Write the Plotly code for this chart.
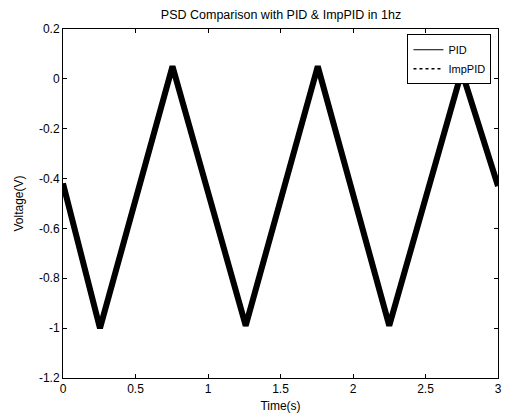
import plotly.graph_objects as go

# Data (vertices of the triangular response)
time_pid = [0.0, 0.255, 0.755, 1.26, 1.757, 2.25, 2.75, 3.0]
volt_pid = [-0.42, -1.0, 0.05, -0.99, 0.05, -0.99, 0.03, -0.43]
time_imp = [0.0, 0.255, 0.755, 1.26, 1.757, 2.25, 2.75, 3.0]
volt_imp = [-0.42, -1.0, 0.05, -0.99, 0.05, -0.99, 0.03, -0.43]

x_ticks = [0, 0.5, 1, 1.5, 2, 2.5, 3]
x_tick_text = ["0", "0.5", "1", "1.5", "2", "2.5", "3"]
y_ticks = [-1.2, -1, -0.8, -0.6, -0.4, -0.2, 0, 0.2]
y_tick_text = ["-1.2", "-1", "-0.8", "-0.6", "-0.4", "-0.2", "0", "0.2"]

font = "Liberation Sans, Arial, sans-serif"

fig = go.Figure()
fig.add_trace(go.Scatter(x=time_pid, y=volt_pid, mode="lines", name="PID",
                         line=dict(color="black", width=6), showlegend=False))
fig.add_trace(go.Scatter(x=time_imp, y=volt_imp, mode="lines", name="ImpPID",
                         line=dict(color="black", width=4, dash="dot"), showlegend=False))
# legend entries with the thin line styles of the original legend
fig.add_trace(go.Scatter(x=[None], y=[None], mode="lines", name="PID",
                         line=dict(color="black", width=1)))
fig.add_trace(go.Scatter(x=[None], y=[None], mode="lines", name="ImpPID",
                         line=dict(color="black", width=1.5, dash="dot")))

fig.update_layout(
    width=510, height=419,
    margin=dict(l=63, r=8, t=29, b=40),
    paper_bgcolor="white", plot_bgcolor="white",
    font=dict(family=font, size=12, color="black"),
    title=dict(text="PSD Comparison with PID &amp; ImpPID in 1hz", x=0.551, xanchor="center",
               y=0.965, yanchor="middle", font=dict(size=12.5, family=font)),
    showlegend=True,
    legend=dict(x=0.985, y=0.985, xanchor="right", yanchor="top",
                bgcolor="white", bordercolor="black", borderwidth=1,
                font=dict(size=11, family=font), tracegroupgap=0,
                itemwidth=30),
)
fig.update_xaxes(range=[0, 3], tickvals=x_ticks, ticktext=x_tick_text,
                 showgrid=False, zeroline=False, showline=True, linecolor="black",
                 linewidth=1, mirror="ticks", ticks="inside", ticklen=4,
                 tickcolor="black",
                 title=dict(text="Time(s)", standoff=6, font=dict(size=12)))
fig.update_yaxes(range=[-1.2, 0.2], tickvals=y_ticks, ticktext=y_tick_text,
                 showgrid=False, zeroline=False, showline=True, linecolor="black",
                 linewidth=1, mirror="ticks", ticks="inside", ticklen=4,
                 tickcolor="black",
                 title=dict(text="Voltage(V)", standoff=12, font=dict(size=12)))

fig.write_html("out.html")
